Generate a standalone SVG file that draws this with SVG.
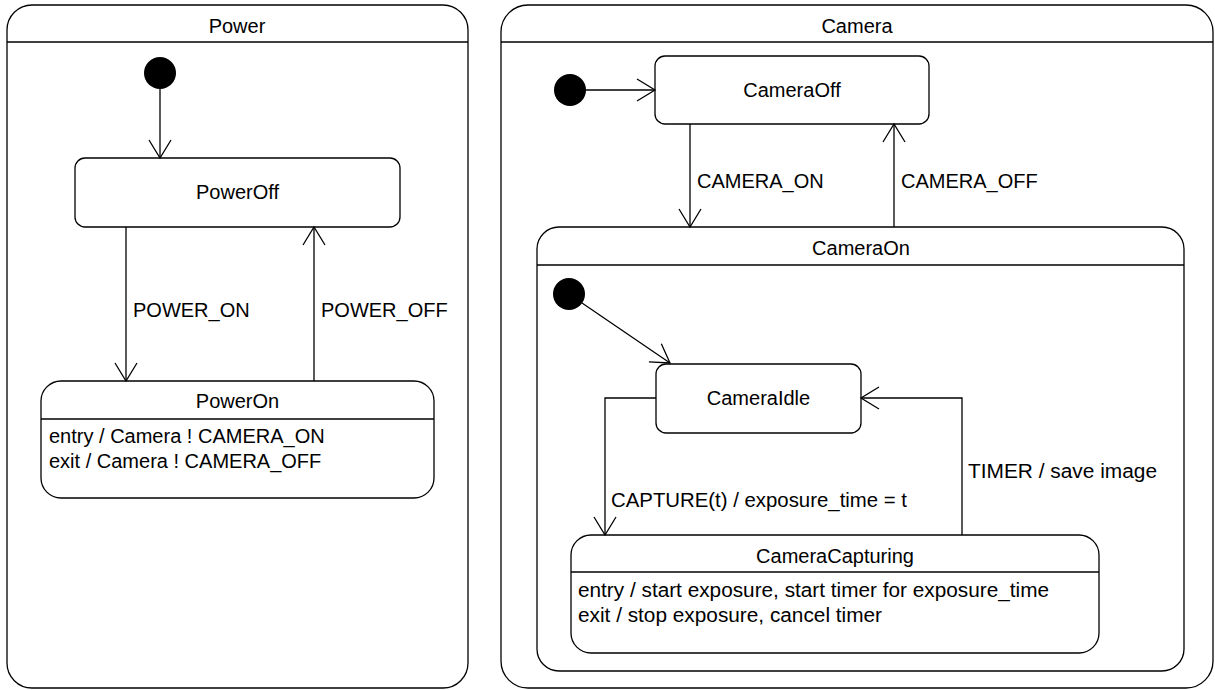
<svg xmlns="http://www.w3.org/2000/svg" width="1215" height="690" viewBox="0 0 1215 690">
  <defs>
    <marker id="open-arrow" markerUnits="userSpaceOnUse" markerWidth="22" markerHeight="26" viewBox="-20 -13 22 26" refX="0" refY="0" orient="auto">
      <path d="M-18,-11 L0,0 L-18,11" fill="none" stroke="#000" stroke-width="1.3"/>
    </marker>
    <style>
      .box { fill: #fff; stroke: #000; stroke-width: 1.3; }
      .sep { stroke: #000; stroke-width: 1.3; }
      .init { fill: #000; }
      .edge { fill: none; stroke: #000; stroke-width: 1.3; marker-end: url(#open-arrow); }
      text { font-family: "Liberation Sans", Arial, sans-serif; font-size: 20px; fill: #000; }
      .c { text-anchor: middle; }
    </style>
  </defs>

  <rect width="1215" height="690" fill="#fff"/>

  <!-- Power region -->
  <g id="power">
    <rect class="box" x="7" y="5" width="461" height="683" rx="25"/>
    <line class="sep" x1="7" y1="42" x2="468" y2="42"/>
    <text class="c" x="237" y="33">Power</text>
  </g>

  <!-- Camera region -->
  <g id="camera">
    <rect class="box" x="501" y="5" width="712" height="683" rx="27"/>
    <line class="sep" x1="501" y1="42" x2="1213" y2="42"/>
    <text class="c" x="857" y="33">Camera</text>
  </g>

  <g id="power-initial">
    <circle class="init" cx="160" cy="73" r="16"/>
  </g>

  <g id="power-off">
    <rect class="box" x="75" y="158" width="325" height="69" rx="10"/>
    <text class="c" x="237.5" y="199">PowerOff</text>
  </g>

  <g id="power-on">
    <rect class="box" x="41" y="381" width="393" height="117" rx="20"/>
    <line class="sep" x1="41" y1="419" x2="434" y2="419"/>
    <text class="c" x="237.5" y="408">PowerOn</text>
    <text x="49" y="443">entry / Camera ! CAMERA_ON</text>
    <text x="49" y="468">exit / Camera ! CAMERA_OFF</text>
  </g>

  <g id="camera-initial">
    <circle class="init" cx="570" cy="90" r="16"/>
  </g>

  <g id="camera-off">
    <rect class="box" x="655" y="56" width="274" height="68" rx="10"/>
    <text class="c" x="792" y="97">CameraOff</text>
  </g>

  <g id="camera-on">
    <rect class="box" x="537" y="227" width="647" height="444" rx="22"/>
    <line class="sep" x1="537" y1="265" x2="1184" y2="265"/>
    <text class="c" x="861" y="255">CameraOn</text>
  </g>

  <g id="camera-on-initial">
    <circle class="init" cx="569" cy="294" r="16"/>
  </g>

  <g id="camera-idle">
    <rect class="box" x="656" y="364" width="205" height="69" rx="10"/>
    <text class="c" x="758.5" y="405">CameraIdle</text>
  </g>

  <g id="camera-capturing">
    <rect class="box" x="571" y="535" width="528" height="118" rx="20"/>
    <line class="sep" x1="571" y1="572" x2="1099" y2="572"/>
    <text class="c" x="835" y="563">CameraCapturing</text>
    <text x="578" y="597" textLength="471" lengthAdjust="spacingAndGlyphs">entry / start exposure, start timer for exposure_time</text>
    <text x="578" y="622" textLength="304" lengthAdjust="spacingAndGlyphs">exit / stop exposure, cancel timer</text>
  </g>

  <!-- Transitions -->
  <g id="connectors">
    <path class="edge" d="M160,89 V158"/>
    <path class="edge" d="M126,227 V381"/>
    <path class="edge" d="M314,381 V227"/>
    <path class="edge" d="M586,90 H655"/>
    <path class="edge" d="M690,124 V227"/>
    <path class="edge" d="M894,227 V124"/>
    <path class="edge" d="M582,303 L670,363"/>
    <path class="edge" d="M656,398 H605 V535"/>
    <path class="edge" d="M962,535 V398 H861"/>
    <text x="133" y="317">POWER_ON</text>
    <text x="321" y="317">POWER_OFF</text>
    <text x="697" y="188">CAMERA_ON</text>
    <text x="901" y="188">CAMERA_OFF</text>
    <text x="611" y="507" textLength="296" lengthAdjust="spacingAndGlyphs">CAPTURE(t) / exposure_time = t</text>
    <text x="968" y="478" textLength="189" lengthAdjust="spacingAndGlyphs">TIMER / save image</text>
  </g>
</svg>
